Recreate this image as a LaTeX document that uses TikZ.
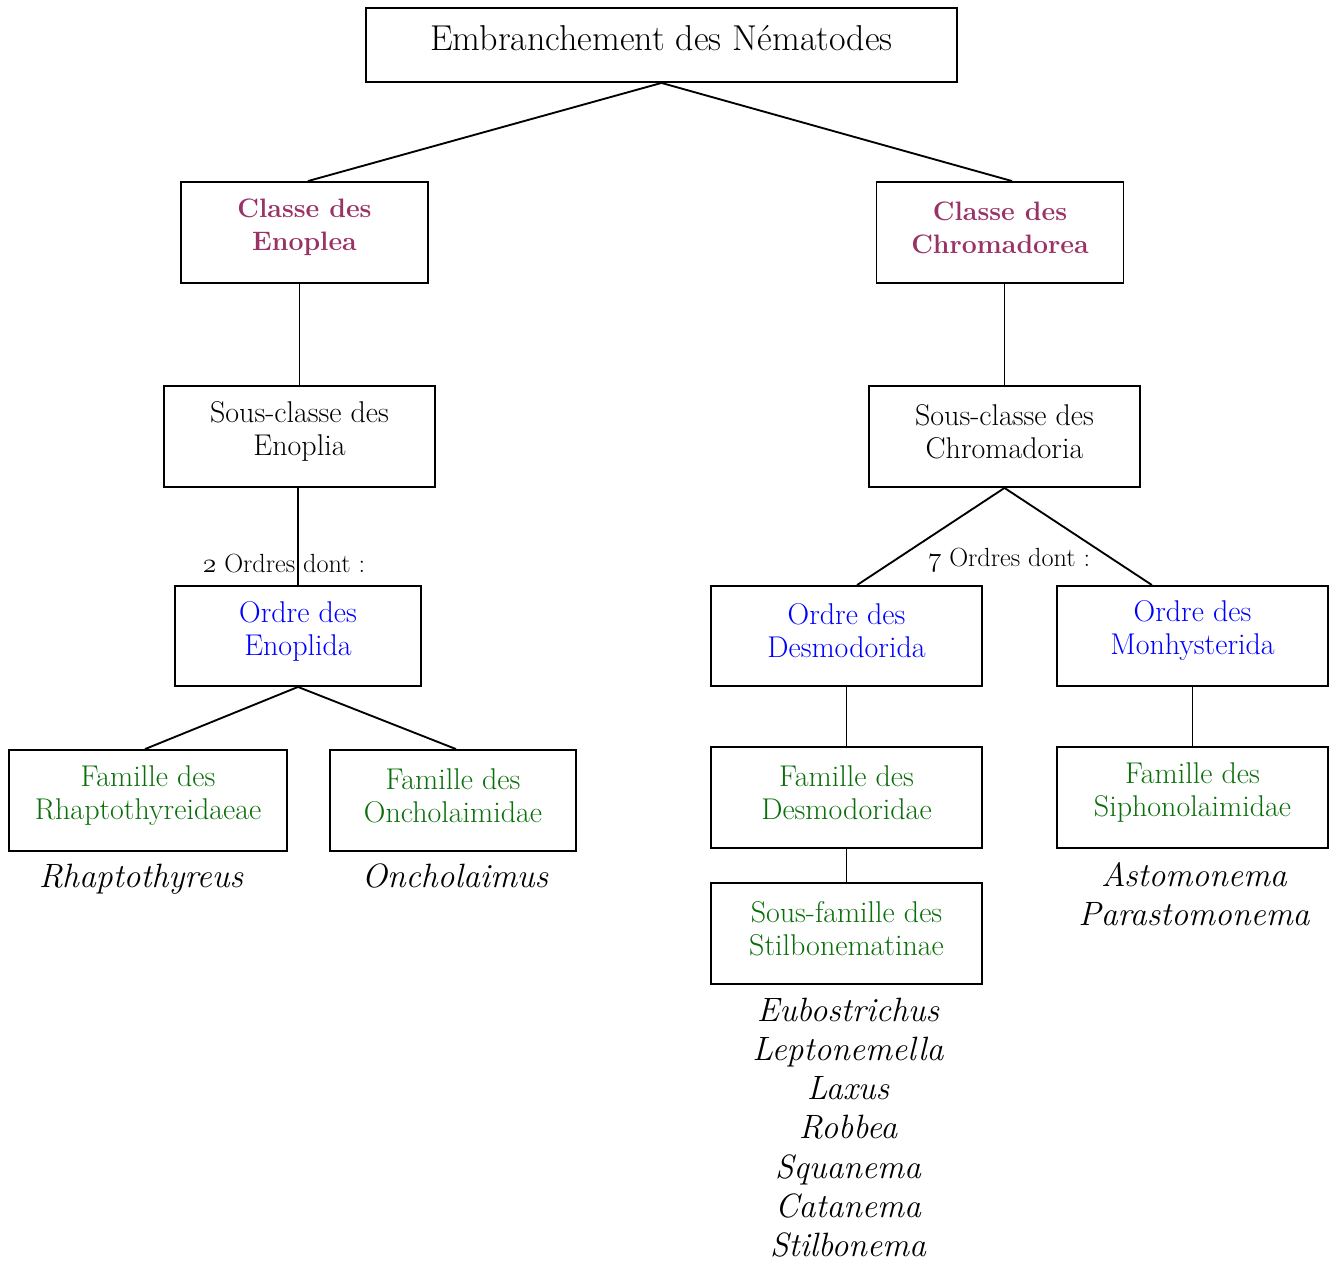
\documentclass[tikz,border=0pt]{standalone}
\usepackage{fontspec}
\definecolor{classc}{RGB}{153,51,102}
\definecolor{ordrec}{RGB}{0,0,255}
\definecolor{famc}{RGB}{10,110,10}
\newcommand{\osnum}[1]{$\mathnormal{#1}$}
\begin{document}
\begin{tikzpicture}[x=0.75pt,y=-0.75pt,
  box/.style={draw, line width=1.4pt, inner sep=0pt},
  txt/.style={align=center, inner sep=0pt, yshift=3.75pt,
    font=\fontsize{22.5}{24.75}\selectfont},
  ctxt/.style={txt, text=classc, font=\fontsize{20}{24.75}\selectfont\bfseries},
  otxt/.style={txt, text=ordrec},
  ftxt/.style={txt, text=famc},
  conn/.style={line width=1.4pt},
  genre/.style={anchor=base, inner sep=0pt, font=\fontsize{25.3}{29}\selectfont\itshape},
  lab/.style={anchor=base, inner sep=0pt, font=\fontsize{19.7}{22}\selectfont}]
\useasboundingbox (0,0) rectangle (1337,1260);

\node[box, minimum width=443.25pt, minimum height=55.5pt,
  label={[txt, yshift=1.5pt, font=\fontsize{27}{30}\selectfont]center:Embranchement des Nématodes}] (top) at (661.5,45) {};

\node[box, minimum width=185.25pt, minimum height=75.75pt,
  label={[ctxt]center:Classe des\\Enoplea}] (cen) at (304.5,232.5) {};
\node[box, minimum width=185.25pt, minimum height=75.75pt,
  label={[ctxt]center:Classe des\\Chromadorea}] (cch) at (1000,232.5) {};

\node[box, minimum width=203.25pt, minimum height=75.75pt,
  label={[txt]center:Sous-classe des\\Enoplia}] (sce) at (299.5,436.5) {};
\node[box, minimum width=203.25pt, minimum height=75.75pt,
  label={[txt]center:Sous-classe des\\Chromadoria}] (scc) at (1004.5,436.5) {};

\node[box, minimum width=184.5pt, minimum height=75pt,
  label={[otxt]center:Ordre des\\Enoplida}] (oen) at (298,636) {};
\node[box, minimum width=203.25pt, minimum height=75pt,
  label={[otxt]center:Ordre des\\Desmodorida}] (ode) at (846.5,636) {};
\node[box, minimum width=203.25pt, minimum height=75pt,
  label={[otxt]center:Ordre des\\Monhysterida}] (omo) at (1192.5,636) {};

\node[box, minimum width=208.5pt, minimum height=75.75pt,
  label={[ftxt]center:Famille des\\Rhaptothyreidaeae}] (frh) at (148,800.5) {};
\node[box, minimum width=184.5pt, minimum height=75.75pt,
  label={[ftxt]center:Famille des\\Oncholaimidae}] (fon) at (453,800.5) {};
\node[box, minimum width=203.25pt, minimum height=75.75pt,
  label={[ftxt]center:Famille des\\Desmodoridae}] (fde) at (846.5,797.5) {};
\node[box, minimum width=203.25pt, minimum height=75.75pt,
  label={[ftxt]center:Famille des\\Siphonolaimidae}] (fsi) at (1192.5,797.5) {};
\node[box, minimum width=203.25pt, minimum height=75.75pt,
  label={[ftxt]center:Sous-famille des\\Stilbonematinae}] (sfs) at (846.5,933.5) {};

\draw[conn] (top.south) -- ([xshift=2.6pt]cen.north);
\draw[conn] (top.south) -- ([xshift=9pt]cch.north);
\draw[conn] (sce.north) -- (sce.north |- cen.south);
\draw[conn] (scc.north) -- (scc.north |- cch.south);
\draw[conn] (oen.north) -- (oen.north |- sce.south);
\draw[conn] (scc.south) -- ([xshift=7.9pt]ode.north);
\draw[conn] (scc.south) -- ([xshift=-30.4pt]omo.north);
\draw[conn] (oen.south) -- ([xshift=-2.25pt]frh.north);
\draw[conn] (oen.south) -- ([xshift=2.25pt]fon.north);
\draw[conn] (fde.north) -- (ode.south);
\draw[conn] (sfs.north) -- (fde.south);
\draw[conn] (fsi.north) -- (omo.south);

\node[lab] (l2) at (284,572) {\osnum{2} Ordres dont :};
\node[lab] (l7) at (1009,566) {\osnum{7} Ordres dont :};

\node[genre] (g1) at (141,887) {Rhaptothyreus};
\node[genre] (g2) at (455,887) {Oncholaimus};
\node[genre] (g3) at (1194,886) {Astomonema};
\node[genre] (g4) at (1194,925) {Parastomonema};
\node[genre] (s1) at (848,1021) {Eubostrichus};
\node[genre] (s2) at (848,1060) {Leptonemella};
\node[genre] (s3) at (848,1099) {Laxus};
\node[genre] (s4) at (848,1138) {Robbea};
\node[genre] (s5) at (848,1178) {Squanema};
\node[genre] (s6) at (848,1217) {Catanema};
\node[genre] (s7) at (848,1256) {Stilbonema};
\end{tikzpicture}
\end{document}
